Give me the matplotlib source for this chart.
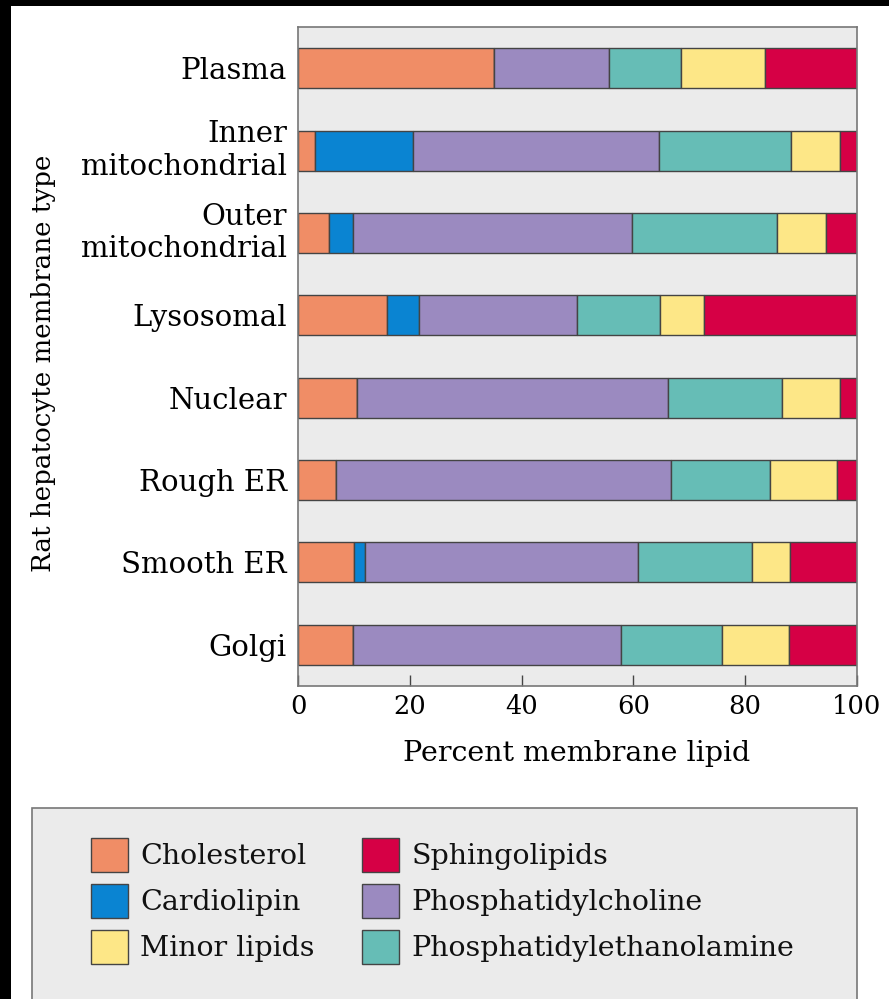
import matplotlib

matplotlib.use("Agg")

import matplotlib.pyplot as plt
from matplotlib.patches import Rectangle
import numpy as np

# membrane composition, percent of total lipid
membranes = [
    "Plasma",
    "Inner\nmitochondrial",
    "Outer\nmitochondrial",
    "Lysosomal",
    "Nuclear",
    "Rough ER",
    "Smooth ER",
    "Golgi",
]
cholesterol = [35.0, 3.0, 5.5, 16.0, 10.5, 6.8, 10.0, 9.8]
cardiolipin = [0.0, 17.6, 4.4, 5.6, 0.0, 0.0, 1.9, 0.0]
phosphatidylcholine = [20.7, 44.0, 49.9, 28.3, 55.7, 60.0, 48.9, 48.0]
phosphatidylethanolamine = [12.8, 23.6, 25.8, 14.8, 20.4, 17.6, 20.5, 18.0]
minor_lipids = [15.1, 8.8, 8.8, 8.0, 10.3, 12.1, 6.8, 12.0]
sphingolipids = [16.4, 3.0, 5.6, 27.3, 3.1, 3.5, 11.9, 12.2]

x_ticks = [0, 20, 40, 60, 80, 100]

series = [
    ("Cholesterol", cholesterol, "#F08D66"),
    ("Cardiolipin", cardiolipin, "#0A84D2"),
    ("Phosphatidylcholine", phosphatidylcholine, "#9B8AC0"),
    ("Phosphatidylethanolamine", phosphatidylethanolamine, "#66BDB6"),
    ("Minor lipids", minor_lipids, "#FDE787"),
    ("Sphingolipids", sphingolipids, "#D60045"),
]
legend_order = ["Cholesterol", "Cardiolipin", "Minor lipids",
                "Sphingolipids", "Phosphatidylcholine", "Phosphatidylethanolamine"]

plt.rcParams["font.family"] = ["DejaVu Serif"]
plt.rcParams["text.color"] = "#111111"

W, H = 889, 999
fig = plt.figure(figsize=(W / 100, H / 100), dpi=100)
fig.patch.set_facecolor("white")

ax = fig.add_axes([298 / W, 1 - 686 / H, (857 - 298) / W, (686 - 27) / H])
ax.set_facecolor("#EBEBEB")

y = np.arange(len(membranes))
left = np.zeros(len(membranes))
handles = {}
for name, vals, color in series:
    vals = np.array(vals)
    bars = ax.barh(y, vals, left=left, height=0.485, color=color,
                   edgecolor="#444444", linewidth=1.0, label=name)
    handles[name] = bars
    left += vals

ax.set_xlim(0, 100)
ax.set_ylim(len(membranes) - 0.5, -0.5)
ax.set_yticks(y)
ax.set_yticklabels(membranes, fontsize=21, linespacing=1.2)
# two-line labels sit centred on their bar
for lbl in ax.get_yticklabels():
    if "\n" in lbl.get_text():
        lbl.set_verticalalignment("center")
ax.set_xticks(x_ticks)
ax.set_xticklabels([str(t) for t in x_ticks], fontsize=18.5)
ax.tick_params(axis="y", length=0, pad=8)
ax.tick_params(axis="x", direction="in", length=8, width=1, color="#444444", pad=6)
for s in ax.spines.values():
    s.set_color("#777777")
    s.set_linewidth(1.2)

ax.set_xlabel("Percent membrane lipid", fontsize=20.5, va="center")
ax.xaxis.set_label_coords(0.499, -0.102)
ax.set_ylabel("Rat hepatocyte membrane type", fontsize=18.8, va="center")
ax.yaxis.set_label_coords(-0.456, 0.49)

# legend panel
fig.patches.append(Rectangle((32 / W, -0.01), (857 - 32) / W, (999 - 808) / H + 0.01,
                             transform=fig.transFigure, facecolor="#EBEBEB",
                             edgecolor="#777777", linewidth=1.2, zorder=0))
leg = fig.legend([handles[n] for n in legend_order], legend_order,
                 loc="upper left", bbox_to_anchor=(91 / W, 1 - 838 / H),
                 ncol=2, frameon=False, fontsize=20.5, borderpad=0, borderaxespad=0,
                 handlelength=1.30, handleheight=1.46, handletextpad=0.42,
                 labelspacing=0.42, columnspacing=1.68)

# black edge strips of the scanned page
fig.patches.append(Rectangle((0, 1 - 6 / H), 1, 6 / H, transform=fig.transFigure,
                             facecolor="black", edgecolor="none", zorder=5))
fig.patches.append(Rectangle((0, 0), 11 / W, 1, transform=fig.transFigure,
                             facecolor="black", edgecolor="none", zorder=5))

fig.savefig("out.png", dpi=100, facecolor="white")
